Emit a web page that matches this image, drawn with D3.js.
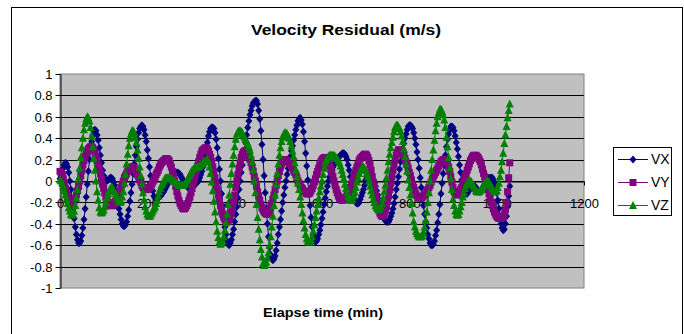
<!DOCTYPE html>
<html><head><meta charset="utf-8">
<script src="https://cdn.jsdelivr.net/npm/d3@7"></script>
<style>
body{margin:0;background:#fff}
svg{display:block}
text{font-family:"Liberation Sans",Arial,sans-serif}
</style></head>
<body><svg id="chart" width="684" height="334"></svg>
<script>
const chartTitle = "Velocity Residual (m/s)";
const xAxisTitle = "Elapse time (min)";
const seriesNames = ["VX", "VY", "VZ"];
const xTickValues = [0, 200, 400, 600, 800, 1000, 1200];
const yTickValues = [1, 0.8, 0.6, 0.4, 0.2, 0, -0.2, -0.4, -0.6, -0.8, -1];
const timeStepMin = 2.5; // samples every 2.5 min, from 0 min (each row = 50 min)

const vx = [
 0.02,0.04,0.07,0.12,0.15,0.17,0.16,0.13,0.08,0.0,-0.08,-0.17,-0.26,-0.35,-0.43,-0.5,-0.55,-0.58,-0.58,-0.56,
 -0.51,-0.44,-0.36,-0.26,-0.15,-0.03,0.09,0.2,0.29,0.37,0.43,0.47,0.48,0.47,0.43,0.38,0.31,0.24,0.17,0.1,
 0.05,0.02,0.0,0.0,0.01,0.02,0.03,0.03,0.02,-0.01,-0.04,-0.09,-0.15,-0.2,-0.26,-0.31,-0.36,-0.4,-0.42,-0.42,
 -0.41,-0.38,-0.33,-0.27,-0.19,-0.11,-0.03,0.07,0.16,0.24,0.32,0.39,0.45,0.49,0.51,0.52,0.51,0.48,0.43,0.37,
 0.29,0.21,0.13,0.05,-0.03,-0.09,-0.14,-0.16,-0.17,-0.17,-0.16,-0.15,-0.14,-0.13,-0.11,-0.1,-0.08,-0.06,-0.04,-0.02,
 0.0,0.02,0.03,0.05,0.06,0.07,0.08,0.08,0.08,0.07,0.06,0.04,0.02,0.0,-0.02,-0.04,-0.05,-0.06,-0.06,-0.06,
 -0.05,-0.05,-0.04,-0.04,-0.03,-0.02,-0.01,0.01,0.03,0.06,0.09,0.13,0.18,0.24,0.3,0.36,0.42,0.46,0.49,0.5,
 0.5,0.49,0.45,0.39,0.31,0.21,0.11,0.0,-0.12,-0.23,-0.34,-0.43,-0.5,-0.56,-0.59,-0.6,-0.58,-0.55,-0.5,-0.45,
 -0.38,-0.31,-0.24,-0.16,-0.08,0.0,0.08,0.15,0.22,0.29,0.36,0.43,0.5,0.56,0.62,0.66,0.7,0.73,0.74,0.75,
 0.75,0.72,0.66,0.58,0.47,0.34,0.2,0.05,-0.11,-0.26,-0.4,-0.52,-0.62,-0.69,-0.73,-0.74,-0.73,-0.7,-0.65,-0.58,
 -0.5,-0.43,-0.36,-0.28,-0.2,-0.13,-0.06,0.0,0.06,0.12,0.17,0.23,0.28,0.33,0.38,0.43,0.48,0.52,0.56,0.58,
 0.59,0.57,0.53,0.46,0.37,0.26,0.14,0.01,-0.12,-0.23,-0.34,-0.43,-0.51,-0.55,-0.57,-0.56,-0.54,-0.5,-0.46,-0.41,
 -0.35,-0.29,-0.22,-0.16,-0.1,-0.05,0.0,0.04,0.08,0.11,0.13,0.15,0.17,0.19,0.2,0.22,0.23,0.24,0.25,0.26,
 0.26,0.25,0.23,0.2,0.15,0.1,0.04,-0.02,-0.08,-0.13,-0.17,-0.2,-0.21,-0.21,-0.2,-0.17,-0.14,-0.11,-0.08,-0.04,
 0.01,0.04,0.06,0.07,0.07,0.06,0.04,0.01,-0.02,-0.05,-0.09,-0.13,-0.17,-0.21,-0.25,-0.29,-0.32,-0.35,-0.37,-0.38,
 -0.38,-0.38,-0.36,-0.33,-0.3,-0.26,-0.21,-0.15,-0.08,-0.02,0.04,0.11,0.18,0.24,0.3,0.35,0.4,0.44,0.48,0.51,
 0.52,0.52,0.51,0.49,0.45,0.4,0.34,0.27,0.2,0.12,0.03,-0.06,-0.14,-0.23,-0.31,-0.38,-0.44,-0.5,-0.54,-0.58,
 -0.6,-0.6,-0.59,-0.56,-0.51,-0.46,-0.39,-0.31,-0.22,-0.12,-0.02,0.07,0.15,0.24,0.32,0.39,0.44,0.48,0.51,0.51,
 0.5,0.47,0.42,0.36,0.3,0.23,0.15,0.08,0.01,-0.05,-0.09,-0.11,-0.12,-0.12,-0.1,-0.08,-0.06,-0.05,-0.04,-0.04,
 -0.05,-0.06,-0.08,-0.09,-0.1,-0.1,-0.09,-0.07,-0.05,-0.03,-0.01,0.01,0.02,0.03,0.03,0.03,0.03,0.01,-0.02,-0.06,
 -0.11,-0.18,-0.26,-0.33,-0.4,-0.44,-0.46,-0.45,-0.4,-0.33,-0.24,-0.14,-0.05
];
const vy = [
 0.09,0.08,0.06,0.02,-0.02,-0.07,-0.11,-0.15,-0.19,-0.21,-0.22,-0.22,-0.2,-0.18,-0.16,-0.13,-0.09,-0.05,0.0,0.05,
 0.1,0.15,0.19,0.23,0.26,0.28,0.3,0.31,0.32,0.32,0.31,0.29,0.26,0.23,0.19,0.15,0.11,0.07,0.02,-0.03,
 -0.07,-0.11,-0.15,-0.18,-0.2,-0.22,-0.23,-0.23,-0.23,-0.22,-0.2,-0.19,-0.17,-0.15,-0.12,-0.09,-0.06,-0.03,0.0,0.03,
 0.05,0.07,0.09,0.11,0.12,0.13,0.13,0.13,0.12,0.1,0.08,0.06,0.04,0.01,-0.01,-0.04,-0.06,-0.07,-0.08,-0.08,
 -0.08,-0.07,-0.06,-0.05,-0.03,-0.01,0.01,0.03,0.06,0.08,0.1,0.13,0.15,0.17,0.18,0.19,0.2,0.21,0.21,0.2,
 0.19,0.16,0.13,0.09,0.05,0.0,-0.05,-0.1,-0.14,-0.18,-0.21,-0.23,-0.25,-0.26,-0.26,-0.25,-0.23,-0.21,-0.18,-0.15,
 -0.11,-0.07,-0.03,0.01,0.06,0.1,0.14,0.18,0.22,0.25,0.28,0.29,0.3,0.31,0.31,0.3,0.28,0.25,0.22,0.18,
 0.13,0.08,0.03,-0.03,-0.08,-0.13,-0.18,-0.23,-0.28,-0.31,-0.34,-0.36,-0.37,-0.38,-0.38,-0.36,-0.33,-0.29,-0.24,-0.19,
 -0.13,-0.06,0.0,0.06,0.12,0.17,0.22,0.25,0.27,0.28,0.28,0.27,0.25,0.23,0.2,0.17,0.13,0.09,0.04,0.0,
 -0.05,-0.1,-0.14,-0.18,-0.22,-0.25,-0.27,-0.29,-0.3,-0.31,-0.31,-0.29,-0.27,-0.24,-0.21,-0.17,-0.13,-0.08,-0.04,0.0,
 0.05,0.09,0.13,0.16,0.18,0.19,0.2,0.2,0.19,0.18,0.17,0.16,0.14,0.12,0.1,0.08,0.06,0.03,0.0,-0.02,
 -0.04,-0.06,-0.07,-0.09,-0.1,-0.11,-0.12,-0.12,-0.12,-0.11,-0.09,-0.07,-0.04,-0.01,0.02,0.06,0.09,0.12,0.15,0.18,
 0.2,0.21,0.22,0.22,0.21,0.19,0.17,0.14,0.11,0.08,0.04,0.0,-0.04,-0.08,-0.11,-0.14,-0.16,-0.17,-0.18,-0.18,
 -0.17,-0.16,-0.15,-0.13,-0.11,-0.09,-0.06,-0.03,0.0,0.04,0.07,0.1,0.13,0.16,0.19,0.21,0.22,0.23,0.24,0.25,
 0.25,0.24,0.22,0.19,0.15,0.1,0.04,-0.01,-0.07,-0.13,-0.19,-0.23,-0.27,-0.3,-0.32,-0.33,-0.33,-0.31,-0.28,-0.24,
 -0.19,-0.14,-0.08,-0.02,0.04,0.1,0.15,0.2,0.24,0.27,0.29,0.29,0.29,0.28,0.26,0.24,0.21,0.18,0.15,0.12,
 0.08,0.05,0.01,-0.03,-0.06,-0.09,-0.12,-0.14,-0.15,-0.16,-0.16,-0.16,-0.15,-0.14,-0.13,-0.12,-0.1,-0.08,-0.06,-0.04,
 -0.01,0.02,0.04,0.06,0.08,0.1,0.12,0.14,0.16,0.18,0.19,0.2,0.2,0.2,0.19,0.16,0.13,0.09,0.04,-0.01,
 -0.06,-0.1,-0.12,-0.13,-0.13,-0.12,-0.1,-0.08,-0.06,-0.03,0.0,0.04,0.07,0.1,0.13,0.16,0.19,0.21,0.23,0.24,
 0.24,0.24,0.23,0.22,0.2,0.18,0.15,0.11,0.07,0.04,0.0,-0.04,-0.08,-0.12,-0.16,-0.2,-0.23,-0.26,-0.29,-0.31,
 -0.33,-0.34,-0.35,-0.35,-0.35,-0.34,-0.33,-0.31,-0.27,-0.2,-0.1,0.03,0.17
];
const vz = [
 0.01,0.0,-0.02,-0.05,-0.09,-0.13,-0.17,-0.21,-0.25,-0.28,-0.31,-0.32,-0.31,-0.28,-0.23,-0.16,-0.08,0.02,0.12,0.22,
 0.31,0.4,0.48,0.54,0.58,0.6,0.59,0.56,0.5,0.42,0.32,0.21,0.1,0.0,-0.1,-0.18,-0.25,-0.29,-0.3,-0.29,
 -0.27,-0.24,-0.2,-0.16,-0.12,-0.09,-0.07,-0.06,-0.06,-0.08,-0.1,-0.12,-0.15,-0.17,-0.19,-0.2,-0.19,-0.15,-0.1,-0.02,
 0.06,0.16,0.25,0.33,0.4,0.44,0.47,0.47,0.45,0.41,0.36,0.29,0.21,0.13,0.05,-0.03,-0.11,-0.18,-0.24,-0.28,
 -0.31,-0.33,-0.33,-0.32,-0.3,-0.28,-0.26,-0.24,-0.21,-0.18,-0.14,-0.1,-0.07,-0.04,-0.02,0.0,0.02,0.03,0.03,0.03,
 0.03,0.03,0.02,0.01,0.0,0.0,-0.01,-0.02,-0.03,-0.04,-0.04,-0.04,-0.04,-0.04,-0.03,-0.02,0.0,0.02,0.04,0.06,
 0.08,0.1,0.11,0.12,0.13,0.13,0.13,0.13,0.14,0.15,0.16,0.17,0.18,0.19,0.2,0.2,0.18,0.13,0.07,-0.01,
 -0.09,-0.19,-0.29,-0.38,-0.47,-0.53,-0.57,-0.59,-0.58,-0.56,-0.52,-0.46,-0.39,-0.31,-0.22,-0.13,-0.03,0.07,0.16,0.24,
 0.32,0.39,0.44,0.46,0.47,0.47,0.46,0.45,0.43,0.41,0.39,0.37,0.35,0.32,0.29,0.24,0.18,0.1,0.0,-0.11,
 -0.22,-0.34,-0.45,-0.55,-0.64,-0.71,-0.77,-0.79,-0.78,-0.76,-0.72,-0.67,-0.6,-0.52,-0.43,-0.33,-0.23,-0.13,-0.03,0.07,
 0.16,0.24,0.31,0.37,0.41,0.44,0.45,0.45,0.44,0.42,0.4,0.37,0.33,0.28,0.23,0.17,0.1,0.04,-0.02,-0.08,
 -0.15,-0.22,-0.3,-0.37,-0.44,-0.5,-0.54,-0.56,-0.57,-0.57,-0.55,-0.52,-0.47,-0.41,-0.34,-0.28,-0.22,-0.16,-0.1,-0.05,
 0.0,0.06,0.12,0.17,0.2,0.22,0.23,0.24,0.24,0.24,0.24,0.24,0.23,0.22,0.21,0.19,0.17,0.14,0.1,0.06,
 0.02,-0.03,-0.07,-0.11,-0.14,-0.16,-0.18,-0.18,-0.17,-0.14,-0.1,-0.06,-0.01,0.03,0.07,0.1,0.12,0.13,0.13,0.12,
 0.1,0.07,0.04,0.0,-0.05,-0.09,-0.13,-0.17,-0.2,-0.23,-0.25,-0.26,-0.27,-0.26,-0.24,-0.21,-0.16,-0.1,-0.04,0.03,
 0.1,0.18,0.25,0.31,0.36,0.41,0.46,0.5,0.52,0.52,0.51,0.49,0.46,0.42,0.37,0.3,0.23,0.16,0.09,0.01,
 -0.06,-0.13,-0.21,-0.3,-0.38,-0.43,-0.47,-0.49,-0.51,-0.52,-0.52,-0.52,-0.51,-0.48,-0.43,-0.37,-0.29,-0.2,-0.11,0.0,
 0.1,0.2,0.29,0.38,0.47,0.54,0.6,0.64,0.67,0.67,0.65,0.62,0.57,0.5,0.41,0.32,0.22,0.12,0.02,-0.08,
 -0.17,-0.23,-0.28,-0.31,-0.32,-0.31,-0.28,-0.24,-0.2,-0.15,-0.11,-0.07,-0.04,-0.02,0.0,0.0,0.0,-0.01,-0.03,-0.05,
 -0.07,-0.09,-0.1,-0.1,-0.1,-0.09,-0.08,-0.06,-0.04,-0.02,-0.01,0.0,0.0,-0.01,-0.03,-0.05,-0.07,-0.09,-0.1,-0.1,
 -0.09,-0.06,-0.02,0.04,0.1,0.18,0.26,0.35,0.43,0.51,0.59,0.66,0.72
];

const seriesValues = [vx, vy, vz];
const seriesColors = ["#000080", "#800080", "#008000"];
const markerPaths = [
  "M0,-4L3.5,0L0,4L-3.5,0Z",      // diamond
  "M-3.5,-3.5H3.5V3.5H-3.5Z",     // square
  "M0,-4.5L4,3.5L-4,3.5Z"         // triangle
];

const svg = d3.select("#chart");
const plot = {left: 60, right: 584, top: 74, bottom: 288};
const x = d3.scaleLinear().domain([0, 1200]).range([plot.left, plot.right]);
const y = d3.scaleLinear().domain([-1, 1]).range([plot.bottom, plot.top]);

// chart border
svg.append("rect").attr("x", 11.5).attr("y", 7.5).attr("width", 671).attr("height", 340)
  .attr("fill", "#fff").attr("stroke", "#000").attr("stroke-width", 1);

// plot area
svg.append("rect").attr("x", plot.left).attr("y", plot.top)
  .attr("width", plot.right - plot.left).attr("height", plot.bottom - plot.top)
  .attr("fill", "#c0c0c0").attr("stroke", "#808080").attr("stroke-width", 1);

// gridlines
svg.append("g").selectAll("line")
  .data(yTickValues.filter(d => d !== 1 && d !== -1))
  .join("line")
  .attr("x1", plot.left).attr("x2", plot.right)
  .attr("y1", d => Math.round(y(d)) + 0.5).attr("y2", d => Math.round(y(d)) + 0.5)
  .attr("stroke", "#000").attr("stroke-width", 1);

// y axis
const yAxis = svg.append("g").attr("transform", `translate(${plot.left + 0.5},0)`)
  .call(d3.axisLeft(y).tickValues(yTickValues).tickFormat(d => String(d))
    .tickSize(5).tickSizeOuter(0).tickPadding(3));
yAxis.selectAll("text").attr("font-size", 13).attr("fill", "#000")
  .attr("font-family", '"Liberation Sans",Arial,sans-serif');
yAxis.selectAll("line,path").attr("stroke", "#000");
yAxis.selectAll(".tick").attr("transform", d => `translate(0,${Math.round(y(d)) + 0.5})`);

// x axis crossing at 0
const xAxis = svg.append("g").attr("transform", `translate(0,${Math.round(y(0)) + 0.5})`)
  .call(d3.axisBottom(x).tickValues(xTickValues).tickFormat(d => String(d))
    .tickSize(4).tickSizeOuter(0).tickPadding(13));
xAxis.selectAll("text").attr("font-size", 13).attr("fill", "#000")
  .attr("font-family", '"Liberation Sans",Arial,sans-serif');
xAxis.selectAll("line,path").attr("stroke", "#000");

// series
const line = d3.line().x((d, i) => x(i * timeStepMin)).y(d => y(d));
seriesValues.forEach((vals, s) => {
  const g = svg.append("g");
  g.append("path").datum(vals).attr("d", line)
    .attr("fill", "none").attr("stroke", seriesColors[s]).attr("stroke-width", 1);
  g.selectAll("path.m").data(vals).join("path").attr("class", "m")
    .attr("d", markerPaths[s])
    .attr("transform", (d, i) => `translate(${x(i * timeStepMin)},${y(d)})`)
    .attr("fill", seriesColors[s]);
});

// title
svg.append("text").attr("x", 346).attr("y", 35).attr("text-anchor", "middle")
  .attr("font-size", 15).attr("font-weight", "bold").attr("textLength", 190)
  .attr("lengthAdjust", "spacingAndGlyphs").text(chartTitle);

svg.append("text").attr("x", 323).attr("y", 317).attr("text-anchor", "middle")
  .attr("font-size", 13).attr("font-weight", "bold").attr("textLength", 120)
  .attr("lengthAdjust", "spacingAndGlyphs").text(xAxisTitle);

// legend
const lg = svg.append("g");
lg.append("rect").attr("x", 613.5).attr("y", 147.5).attr("width", 58).attr("height", 68)
  .attr("fill", "#fff").attr("stroke", "#000").attr("stroke-width", 1);
seriesNames.forEach((name, s) => {
  const cy = 159 + s * 23;
  lg.append("line").attr("x1", 618).attr("x2", 648).attr("y1", cy + 0.5).attr("y2", cy + 0.5)
    .attr("stroke", seriesColors[s]).attr("stroke-width", 1);
  lg.append("path").attr("d", markerPaths[s]).attr("transform", `translate(633,${cy + 0.5})`)
    .attr("fill", seriesColors[s]);
  lg.append("text").attr("x", 651).attr("y", cy + 5).attr("font-size", 14).text(name);
});
</script></body></html>
